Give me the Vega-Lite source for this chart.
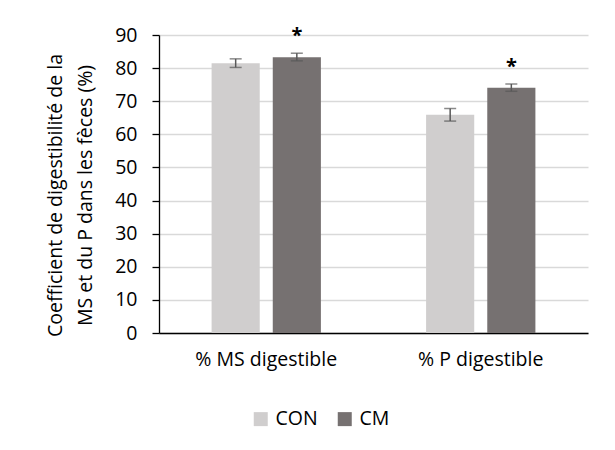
{
  "$schema": "https://vega.github.io/schema/vega-lite/v6.json",
  "autosize": {"type": "none"},
  "width": 429,
  "height": 298,
  "padding": {"left": 159, "top": 35, "right": 27, "bottom": 117},
  "background": "white",
  "config": {
    "font": "Open Sans",
    "view": {"stroke": null},
    "axisY": {
      "titleFontSize": 19.5, "titleFontWeight": "normal", "titleColor": "black", "titlePadding": 19, "titleLineHeight": 30, "titleY": 160,
      "values": [0, 10, 20, 30, 40, 50, 60, 70, 80, 90],
      "labelFontSize": 19.5, "labelColor": "black", "labelPadding": 15,
      "domainColor": "black", "domainWidth": 1.3, "tickColor": "black", "tickSize": 7, "tickWidth": 1.3,
      "gridColor": "#d9d9d9", "gridWidth": 1.3
    }
  },
  "data": {"values": [
    {"cat": "% MS digestible", "group": "CON", "value": 81.5, "lo": 80.2, "hi": 82.8, "sig": ""},
    {"cat": "% MS digestible", "group": "CM", "value": 83.3, "lo": 82.2, "hi": 84.5, "sig": "*"},
    {"cat": "% P digestible", "group": "CON", "value": 65.9, "lo": 64.0, "hi": 67.8, "sig": ""},
    {"cat": "% P digestible", "group": "CM", "value": 74.1, "lo": 73.0, "hi": 75.2, "sig": "*"}
  ]},
  "encoding": {
    "x": {"field": "cat", "type": "nominal", "sort": null,
      "scale": {"paddingInner": 0, "paddingOuter": 0},
      "axis": {"title": null, "labelAngle": 0, "labelFontSize": 19.5, "labelColor": "black", "ticks": false,
        "domainColor": "black", "domainWidth": 1.3, "labelPadding": 17}},
    "xOffset": {"field": "group", "sort": ["CON", "CM"], "scale": {"paddingInner": 0.213, "paddingOuter": 0.86}}
  },
  "layer": [
    {
      "mark": {"type": "bar"},
      "encoding": {
        "y": {"field": "value", "type": "quantitative", "scale": {"domain": [0, 90]},
          "title": ["Coefficient de digestibilité de la", "MS et du P dans les fèces (%)"]},
        "color": {"field": "group", "type": "nominal",
          "scale": {"domain": ["CON", "CM"], "range": ["#D0CECE", "#767171"]},
          "legend": {"title": null, "orient": "none", "direction": "horizontal", "legendX": 92, "legendY": 374,
            "symbolType": "square", "symbolSize": 196, "symbolStrokeWidth": 0, "labelFontSize": 19.5, "labelColor": "black",
            "columnPadding": 17, "labelOffset": 5}}
      }
    },
    {
      "mark": {"type": "rule", "color": "#595959", "strokeWidth": 1.5},
      "encoding": {"y": {"field": "lo", "type": "quantitative", "title": ["Coefficient de digestibilité de la", "MS et du P dans les fèces (%)"]}, "y2": {"field": "hi"}}
    },
    {
      "mark": {"type": "tick", "color": "#595959", "size": 12, "thickness": 1.5},
      "encoding": {"y": {"field": "lo", "type": "quantitative", "title": ["Coefficient de digestibilité de la", "MS et du P dans les fèces (%)"]}}
    },
    {
      "mark": {"type": "tick", "color": "#595959", "size": 12, "thickness": 1.5},
      "encoding": {"y": {"field": "hi", "type": "quantitative", "title": ["Coefficient de digestibilité de la", "MS et du P dans les fèces (%)"]}}
    },
    {
      "transform": [{"filter": "datum.sig != ''"}],
      "mark": {"type": "text", "fontSize": 20, "fontWeight": "bold", "baseline": "alphabetic", "dy": -11, "color": "black"},
      "encoding": {"y": {"field": "hi", "type": "quantitative", "title": ["Coefficient de digestibilité de la", "MS et du P dans les fèces (%)"]}, "text": {"field": "sig"}}
    }
  ]
}
